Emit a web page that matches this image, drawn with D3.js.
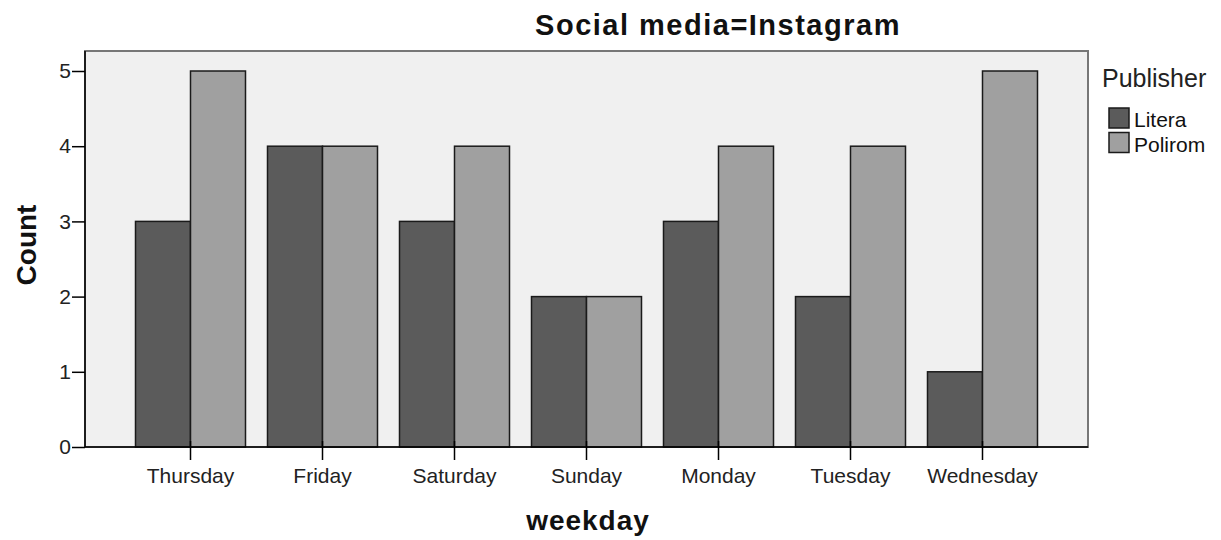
<!DOCTYPE html>
<html><head><meta charset="utf-8">
<script src="https://cdn.jsdelivr.net/npm/d3@7"></script>
<style>body{margin:0;background:#fff}svg{display:block}text{font-family:"Liberation Sans",Arial,sans-serif}</style>
</head><body><svg id="c" width="1221" height="540"></svg>
<script>
const days = ["Thursday","Friday","Saturday","Sunday","Monday","Tuesday","Wednesday"];
const publishers = ["Litera","Polirom"];
const litera = [3,4,3,2,3,2,1];
const polirom = [5,4,4,2,4,4,5];
const yTicks = [0,1,2,3,4,5];
const colors = ["#5b5b5b","#a0a0a0"];

const svg = d3.select("#c");
const L=85,T=51,R=1088,B=447;
const x0 = d3.scaleBand().domain(days).range([L,R]).paddingInner(22/132).paddingOuter(0.3826);
const x1 = d3.scaleBand().domain(publishers).range([0,x0.bandwidth()]);
const y = d3.scaleLinear().domain([0,5]).range([B,71]);

svg.append("rect").attr("x",L).attr("y",T).attr("width",R-L).attr("height",B-T).attr("fill","#f0f0f0").attr("stroke","#777").attr("stroke-width",2);

const data = days.map((d,i)=>({day:d, vals:[litera[i],polirom[i]]}));
const g = svg.append("g");
data.forEach(d=>{
  d.vals.forEach((v,j)=>{
    g.append("rect").attr("x",x0(d.day)+x1(publishers[j])).attr("y",y(v))
     .attr("width",x1.bandwidth()).attr("height",y(0)-y(v))
     .attr("fill",colors[j]).attr("stroke","#1a1a1a").attr("stroke-width",1.5);
  });
});

// y axis
const ya = svg.append("g").attr("transform",`translate(${L},0)`).call(d3.axisLeft(y).tickValues(yTicks).tickFormat(d3.format("d")).tickSize(13).tickPadding(1));
ya.select(".domain").attr("stroke","#000").attr("stroke-width",1.5).attr("d",`M0,${T}V${B}`);
ya.selectAll(".tick line").attr("stroke","#000").attr("stroke-width",1.5);
ya.selectAll(".tick text").attr("font-size",21).attr("fill","#222");

// x axis
const xa = svg.append("g").attr("transform",`translate(0,${B})`).call(d3.axisBottom(x0).tickSize(13).tickPadding(4));
xa.select(".domain").attr("stroke","#000").attr("stroke-width",1.5).attr("d",`M${L},0H${R}`);
xa.selectAll(".tick line").attr("stroke","#000").attr("stroke-width",1.5).attr("y1",-6);
xa.selectAll(".tick text").attr("font-size",21).attr("fill","#222").attr("dy",null).attr("y",36);

svg.append("text").attr("x",718).attr("y",35).attr("text-anchor","middle").attr("font-size",29).attr("font-weight","bold").attr("letter-spacing",1.5).attr("fill","#111").text("Social media=Instagram");
svg.append("text").attr("x",588).attr("y",530).attr("text-anchor","middle").attr("font-size",28).attr("font-weight","bold").attr("letter-spacing",1).attr("fill","#111").text("weekday");
svg.append("text").attr("transform","translate(36,245) rotate(-90)").attr("text-anchor","middle").attr("font-size",28).attr("font-weight","bold").attr("fill","#111").text("Count");

// legend
const lg = svg.append("g");
lg.append("text").attr("x",1102).attr("y",87).attr("font-size",25).attr("fill","#222").text("Publisher");
publishers.forEach((p,i)=>{
  lg.append("rect").attr("x",1109).attr("y",108+i*24.5).attr("width",20).attr("height",20).attr("fill",colors[i]).attr("stroke","#1a1a1a").attr("stroke-width",1.5);
  lg.append("text").attr("x",1134).attr("y",127+i*25).attr("font-size",21).attr("fill","#111").text(p);
});
</script></body></html>
